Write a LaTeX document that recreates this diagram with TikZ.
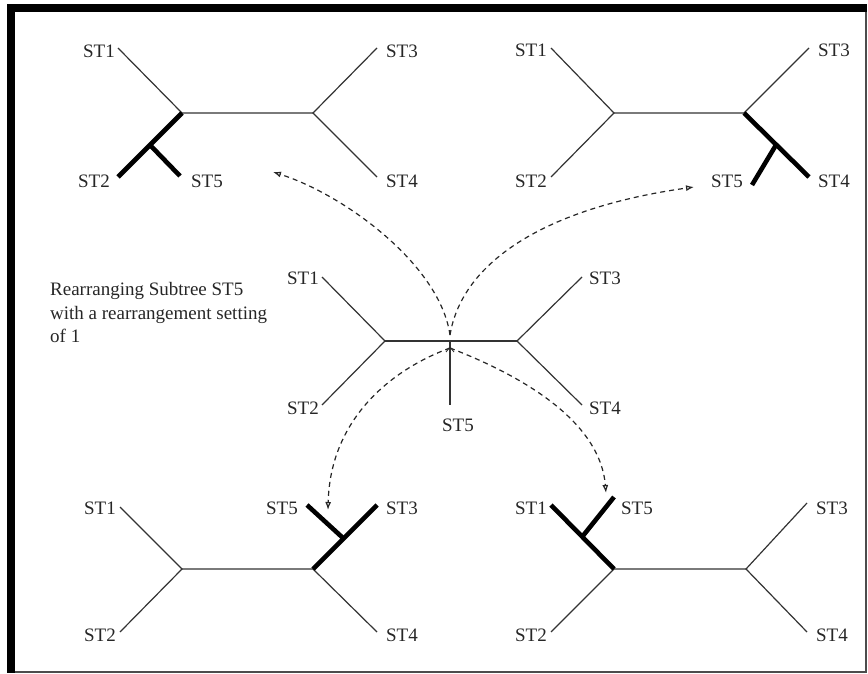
\documentclass[tikz,border=0pt]{standalone}
\usepackage{fontspec}
\setmainfont{Liberation Serif}
\usetikzlibrary{arrows.meta}
\begin{document}
\begin{tikzpicture}[x=1pt,y=-1pt,
  branch/.style={draw=black!80, line width=1.2pt},
  moved/.style={draw=black, line width=4.6pt},
  lbl/.style={font=\fontsize{19}{22}\selectfont, text=black!85, inner sep=0pt},
  note/.style={font=\fontsize{19}{24}\selectfont, text=black!85, inner sep=0pt, anchor=base west},
  jump/.style={draw=black!85, line width=1.2pt, dash pattern=on 5pt off 4pt,
    -{Latex[open,length=8pt,width=6pt]}},
]
\useasboundingbox (0,0) rectangle (868,674);

% frame: heavy top and left edges, thin right and bottom edges
\fill[black] (7,4) rectangle (867,12);
\fill[black] (7,4) rectangle (15,673);
\draw[black!70, line width=1.2pt] (866,12) -- (866,672) -- (15,672);

% ---------- centre tree (before rearrangement) ----------
\coordinate (L0) at (385,341);
\coordinate (R0) at (517,341);
\coordinate (m0) at (450,341);
\coordinate (a0) at (322,277);
\coordinate (d0) at (322,405);
\coordinate (b0) at (582,277);
\coordinate (c0) at (582,405);
\coordinate (e0) at (450,405);
\draw[branch] (a0) -- (L0) -- (d0);
\draw[branch] (L0) -- (R0);
\draw[branch] (b0) -- (R0) -- (c0);
\draw[branch] (m0) -- (e0);
\draw[branch, line width=0.9pt] (446,352) -- (450,347) -- (454,352);
\node[lbl] (t0a) at (303,278) {ST1};
\node[lbl] (t0d) at (303,408) {ST2};
\node[lbl] (t0b) at (605,278) {ST3};
\node[lbl] (t0c) at (605,408) {ST4};
\node[lbl] (t0e) at (458,425) {ST5};

% ---------- top-left tree ----------
\coordinate (L1) at (182,113);
\coordinate (R1) at (313,113);
\coordinate (a1) at (118,48);
\coordinate (d1) at (118,177);
\coordinate (b1) at (377,48);
\coordinate (c1) at (377,177);
\coordinate (j1) at (150,145);
\coordinate (e1) at (180,176);
\draw[branch] (a1) -- (L1) -- (R1);
\draw[branch] (b1) -- (R1) -- (c1);
\draw[moved] (L1) -- (d1);
\draw[moved] (j1) -- (e1);
\node[lbl] (t1a) at (99,51) {ST1};
\node[lbl] (t1d) at (94,181) {ST2};
\node[lbl] (t1b) at (402,51) {ST3};
\node[lbl] (t1c) at (402,181) {ST4};
\node[lbl] (t1e) at (207,181) {ST5};

% ---------- top-right tree ----------
\coordinate (L2) at (614,113);
\coordinate (R2) at (744,113);
\coordinate (a2) at (551,48);
\coordinate (d2) at (551,177);
\coordinate (b2) at (809,48);
\coordinate (c2) at (809,177);
\coordinate (j2) at (776,145);
\coordinate (e2) at (752,185);
\draw[branch] (a2) -- (L2) -- (d2);
\draw[branch] (L2) -- (R2) -- (b2);
\draw[moved] (R2) -- (c2);
\draw[moved] (j2) -- (e2);
\node[lbl] (t2a) at (531,50) {ST1};
\node[lbl] (t2d) at (531,181) {ST2};
\node[lbl] (t2b) at (834,50) {ST3};
\node[lbl] (t2c) at (834,181) {ST4};
\node[lbl] (t2e) at (727,181) {ST5};

% ---------- bottom-left tree ----------
\coordinate (L3) at (182,569);
\coordinate (R3) at (313,569);
\coordinate (a3) at (120,507);
\coordinate (d3) at (120,632);
\coordinate (b3) at (377,505);
\coordinate (c3) at (377,632);
\coordinate (j3) at (343,538);
\coordinate (e3) at (307,505);
\draw[branch] (a3) -- (L3) -- (d3);
\draw[branch] (L3) -- (R3) -- (c3);
\draw[moved] (R3) -- (b3);
\draw[moved] (j3) -- (e3);
\node[lbl] (t3a) at (100,508) {ST1};
\node[lbl] (t3d) at (100,635) {ST2};
\node[lbl] (t3b) at (402,508) {ST3};
\node[lbl] (t3c) at (402,635) {ST4};
\node[lbl] (t3e) at (282,508) {ST5};

% ---------- bottom-right tree ----------
\coordinate (L4) at (614,569);
\coordinate (R4) at (746,569);
\coordinate (a4) at (551,505);
\coordinate (d4) at (551,632);
\coordinate (b4) at (807,503);
\coordinate (c4) at (807,632);
\coordinate (j4) at (582,537);
\coordinate (e4) at (614,497);
\draw[branch] (d4) -- (L4) -- (R4);
\draw[branch] (b4) -- (R4) -- (c4);
\draw[moved] (L4) -- (a4);
\draw[moved] (j4) -- (e4);
\node[lbl] (t4a) at (531,508) {ST1};
\node[lbl] (t4d) at (531,635) {ST2};
\node[lbl] (t4b) at (832,508) {ST3};
\node[lbl] (t4c) at (832,635) {ST4};
\node[lbl] (t4e) at (637,508) {ST5};

% ---------- moves of ST5 ----------
\coordinate (up0) at (450,335);
\coordinate (dn0) at (450,348);
\coordinate (tip1) at (273,172);
\coordinate (tip2) at (694,187);
\coordinate (tip3) at (328,510);
\coordinate (tip4) at (606,493);
\draw[jump] (up0) .. controls (440,265) and (345,195) .. (tip1);
\draw[jump] (up0) .. controls (462,262) and (545,208) .. (tip2);
\draw[jump] (dn0) .. controls (390,370) and (330,420) .. (tip3);
\draw[jump] (dn0) .. controls (520,375) and (600,420) .. (tip4);

% ---------- caption ----------
\node[note] (n1) at (50,295) {Rearranging Subtree ST5};
\node[note] (n2) at (50,319) {with a rearrangement setting};
\node[note] (n3) at (50,342) {of 1};
\end{tikzpicture}
\end{document}
